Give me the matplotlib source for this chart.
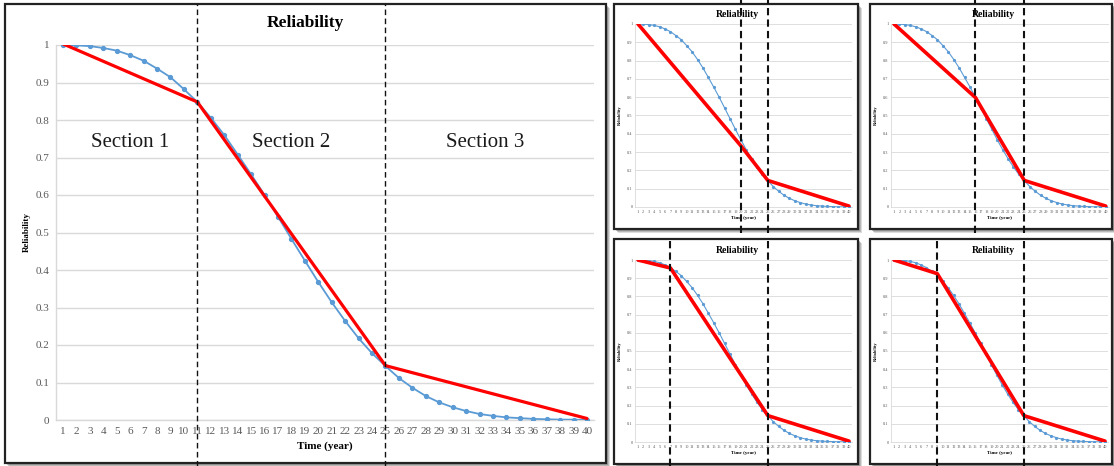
import matplotlib.pyplot as plt
from matplotlib.patches import Rectangle

plt.rcParams['font.family'] = ['Liberation Serif', 'DejaVu Serif']

W, H = 1114, 466

years = list(range(1, 41))
reliability = [1.000, 0.999, 0.997, 0.992, 0.985, 0.973, 0.958, 0.937, 0.914, 0.882,
               0.848, 0.806, 0.760, 0.708, 0.655, 0.600, 0.542, 0.483, 0.425, 0.368,
               0.314, 0.264, 0.218, 0.178, 0.144, 0.112, 0.086, 0.064, 0.047, 0.034,
               0.024, 0.016, 0.011, 0.007, 0.005, 0.003, 0.002, 0.001, 0.001, 0.000]

# piecewise linear fits (breakpoint years / values)
main_break_years = [1, 11, 25, 40]
main_break_vals = [1.003, 0.848, 0.145, 0.004]
small_break_years = [[1, 20, 25, 40], [1, 16, 25, 40], [1, 7, 25, 40], [1, 9, 25, 40]]
small_break_vals = [[1.0, 0.335, 0.145, 0.005],
                    [1.0, 0.598, 0.145, 0.005],
                    [1.0, 0.956, 0.145, 0.005],
                    [1.0, 0.925, 0.145, 0.005]]

section_labels = ['Section 1', 'Section 2', 'Section 3']
section_x = [6.0, 18.0, 32.4]
section_y = 0.74

y_ticks = [0, 0.1, 0.2, 0.3, 0.4, 0.5, 0.6, 0.7, 0.8, 0.9, 1]
y_ticklabels = ['0', '0.1', '0.2', '0.3', '0.4', '0.5', '0.6', '0.7', '0.8', '0.9', '1']

fig = plt.figure(figsize=(W / 100, H / 100), dpi=100)


def px_axes(l, t, r, b):
    return fig.add_axes([l / W, 1 - b / H, (r - l) / W, (b - t) / H])


def panel(l, t, r, b):
    # soft shadow then white framed box
    for off, a in [(4, 0.25), (3, 0.35), (2, 0.45)]:
        fig.add_artist(Rectangle(((l + off) / W, 1 - (b + off) / H), (r - l) / W, (b - t) / H,
                                 transform=fig.transFigure, facecolor='#777777', edgecolor='none',
                                 alpha=a, zorder=-3))
    fig.add_artist(Rectangle((l / W, 1 - b / H), (r - l) / W, (b - t) / H,
                             transform=fig.transFigure, facecolor='white', edgecolor='#222222',
                             lw=1.6, zorder=-2))


def draw_chart(ax, bx, bv, small, t_px, b_px, dash_top, dash_bot, title_x):
    ax.set_facecolor('none')
    ax.set_xlim(0.5, 40.5)
    ax.set_ylim(0, 1)
    ax.set_yticks(y_ticks)
    ax.set_yticklabels(y_ticklabels)
    ax.set_xticks(years)
    ax.set_xticklabels([str(y) for y in years])
    ax.grid(axis='y', color='#d9d9d9', lw=1.0 if not small else 0.6)
    ax.set_axisbelow(True)
    for s in ['top', 'right']:
        ax.spines[s].set_visible(False)
    for s in ['left', 'bottom']:
        ax.spines[s].set_color('#d9d9d9')
        ax.spines[s].set_linewidth(1.0 if not small else 0.6)

    if small:
        ax.plot(years, reliability, color='#5b9bd5', lw=0.8, marker='o', ms=1.3, zorder=3)
        ax.plot(bx, bv, color='#ff0000', lw=2.6, zorder=4, solid_capstyle='round')
        ax.tick_params(length=0, labelsize=3.2, colors='#595959', pad=2)
        ax.set_title('Reliability', fontsize=7, fontweight='bold', x=title_x, pad=5)
        ax.set_xlabel('Time (year)', fontsize=3.6, fontweight='bold', labelpad=1.5)
        ax.set_ylabel('Reliability', fontsize=3.2, fontweight='bold', labelpad=4)
        dash_lw, dash_style = 1.5, (0, (3.5, 2))
    else:
        ax.plot(years, reliability, color='#5b9bd5', lw=1.3, marker='o', ms=2.8, zorder=3)
        ax.plot(bx, bv, color='#ff0000', lw=2.3, zorder=4, solid_capstyle='round')
        ax.tick_params(length=0, labelsize=8, colors='#595959', pad=5)
        ax.set_title('Reliability', fontsize=12.5, fontweight='bold', x=title_x, pad=13)
        ax.set_xlabel('Time (year)', fontsize=8, fontweight='bold', labelpad=4)
        ax.set_ylabel('Reliability', fontsize=6.5, fontweight='bold', labelpad=3)
        dash_lw, dash_style = 1.0, (0, (4, 2.5))
        for lab, sx in zip(section_labels, section_x):
            ax.text(sx, section_y, lab, fontsize=15, ha='center', va='center', color='#1a1a1a')

    height = b_px - t_px
    ymax = (b_px - dash_top) / height
    ymin = (b_px - dash_bot) / height
    for boundary in bx[1:3]:
        ax.axvline(boundary, ymin=ymin, ymax=ymax, color='#111111', lw=dash_lw,
                   ls=dash_style, clip_on=False, zorder=5)


# main chart
panel(5, 4, 606, 463)
ax_main = px_axes(56.3, 45, 593.7, 420)
draw_chart(ax_main, main_break_years, main_break_vals, False, 45, 420, 4, 466, 0.463)

# small charts
small_boxes = [(614, 4, 858, 229), (870, 4, 1112, 229), (614, 239, 858, 464), (870, 239, 1112, 464)]
small_axes = [(635.3, 24, 851.7, 207), (891.3, 24, 1108.5, 207),
              (635.3, 260, 851.7, 442), (891.3, 260, 1107.7, 442)]
dash_ranges = [(0, 233), (0, 233), (239, 466), (239, 466)]

for i in range(4):
    panel(*small_boxes[i])
    l, t, r, b = small_axes[i]
    ax = px_axes(l, t, r, b)
    draw_chart(ax, small_break_years[i], small_break_vals[i], True, t, b,
               dash_ranges[i][0], dash_ranges[i][1], 0.47)

fig.savefig('out.png', dpi=100)
